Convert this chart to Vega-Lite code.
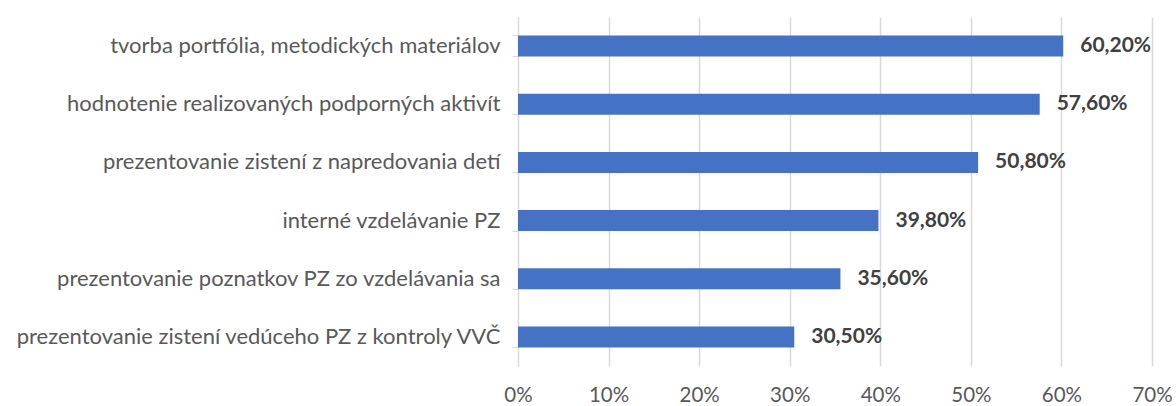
{
  "$schema": "https://vega.github.io/schema/vega-lite/v6.json",
  "autosize": "none",
  "width": 634,
  "height": 349,
  "padding": {"left": 518, "top": 17, "right": 24, "bottom": 40},
  "background": "white",
  "config": {
    "view": {"stroke": null},
    "locale": {"number": {"decimal": ",", "thousands": " ", "grouping": [3], "currency": ["", " €"]}},
    "font": "Lato"
  },
  "data": {
    "values": [
      {"kategoria": "tvorba portfólia, metodických materiálov", "podiel": 0.602},
      {"kategoria": "hodnotenie realizovaných podporných aktivít ", "podiel": 0.576},
      {"kategoria": "prezentovanie zistení z napredovania detí", "podiel": 0.508},
      {"kategoria": "interné vzdelávanie PZ", "podiel": 0.398},
      {"kategoria": "prezentovanie poznatkov PZ zo vzdelávania sa ", "podiel": 0.356},
      {"kategoria": "prezentovanie zistení vedúceho PZ z kontroly VVČ", "podiel": 0.305}
    ]
  },
  "encoding": {
    "y": {
      "field": "kategoria",
      "type": "nominal",
      "sort": null,
      "title": null,
      "scale": {"paddingInner": 0.64, "paddingOuter": 0.32},
      "axis": {
        "domainColor": "#d9d9d9",
        "tickColor": "#d9d9d9",
        "tickSize": 6,
        "bandPosition": 1,
        "tickExtra": true,
        "labelColor": "#595959",
        "labelFontSize": 22,
        "labelPadding": 12,
        "labelLimit": 600,
        "grid": false
      }
    },
    "x": {
      "field": "podiel",
      "type": "quantitative",
      "title": null,
      "scale": {"domain": [0, 0.7], "nice": false},
      "axis": {
        "format": ".0%",
        "values": [0, 0.1, 0.2, 0.3, 0.4, 0.5, 0.6, 0.7],
        "domain": false,
        "ticks": false,
        "grid": true,
        "gridColor": "#d9d9d9",
        "gridWidth": 1.5,
        "labelColor": "#595959",
        "labelFontSize": 20.5,
        "labelPadding": 19,
        "labelFlush": false
      }
    }
  },
  "layer": [
    {"mark": {"type": "bar", "color": "#4472c4"}},
    {
      "mark": {"type": "text", "align": "left", "baseline": "middle", "dx": 17, "fontWeight": "bold", "fontSize": 21, "color": "#404040"},
      "encoding": {"text": {"field": "podiel", "type": "quantitative", "format": ".2%"}}
    }
  ]
}
